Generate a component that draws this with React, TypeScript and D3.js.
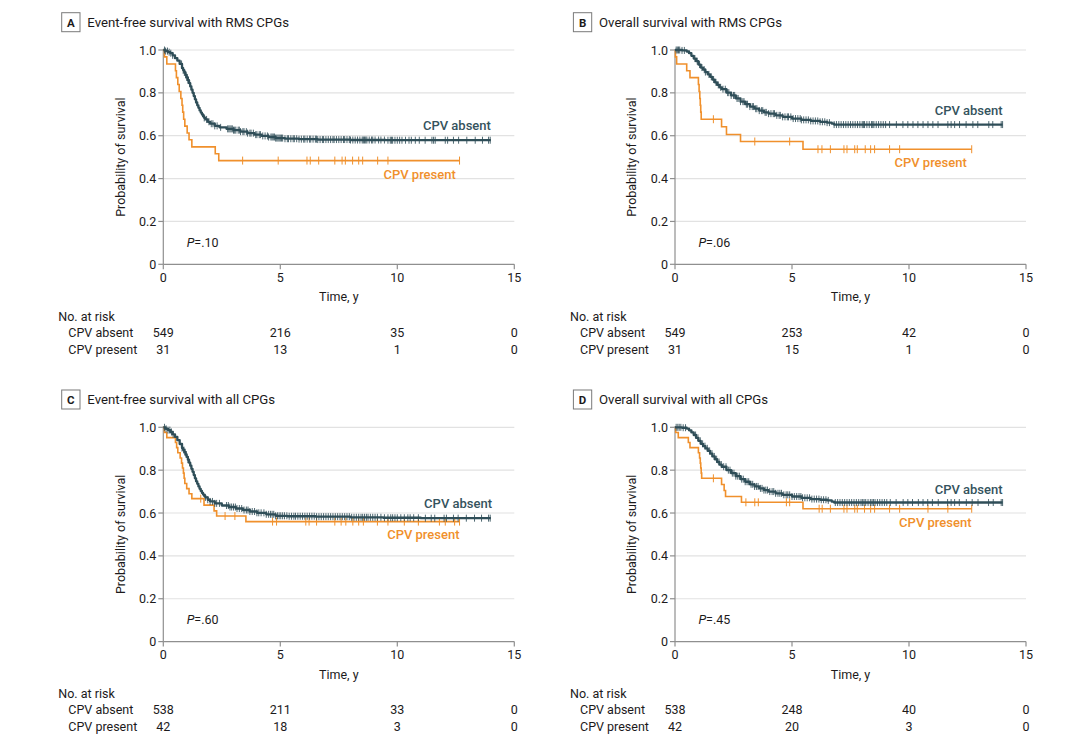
import React from 'react';
import * as d3 from 'd3';

type Pt = [number, number];

// ---------- shared axis values ----------
const timeTicks = [0, 5, 10, 15];
const survTicks = [0, 0.2, 0.4, 0.6, 0.8, 1.0];
const riskTimes = [0, 5, 10, 15];
const groupNames = ['CPV absent', 'CPV present'];

// ---------- Panel A: Event-free survival with RMS CPGs ----------
const aAbsentCurve: Pt[] = [
  [0, 1], [0.1, 0.995], [0.2, 0.99], [0.3, 0.985], [0.4, 0.975], [0.5, 0.962], [0.6, 0.95],
  [0.7, 0.935], [0.8, 0.915], [0.85, 0.905], [0.9, 0.895], [0.95, 0.884], [1.0, 0.872],
  [1.05, 0.859], [1.1, 0.845], [1.15, 0.83], [1.2, 0.815], [1.25, 0.8], [1.3, 0.785],
  [1.35, 0.77], [1.4, 0.755], [1.45, 0.742], [1.5, 0.73], [1.55, 0.718], [1.6, 0.708],
  [1.65, 0.699], [1.7, 0.69], [1.75, 0.683], [1.8, 0.676],
  [1.9, 0.665], [2.0, 0.656], [2.2, 0.646], [2.4, 0.639], [2.7, 0.632], [3.0, 0.626],
  [3.3, 0.619], [3.6, 0.612], [3.9, 0.605], [4.2, 0.599], [4.5, 0.594], [4.8, 0.589],
  [5.2, 0.586], [5.8, 0.584], [6.6, 0.582], [8.0, 0.58], [9.5, 0.579], [14.0, 0.579],
];
const aAbsentCensor = [
  0.05, 0.1, 0.18, 0.25, 0.32, 0.4, 0.78, 0.85, 0.9, 0.95, 1.0, 1.05, 1.75, 1.85, 1.95, 2.05,
  2.12, 2.2, 2.3, 2.45, 2.75, 2.8, 2.85, 2.9, 2.95, 3.0, 3.05, 3.1, 3.2, 3.25, 3.3, 3.4, 3.45,
  3.55, 3.6, 3.7, 3.75, 3.85, 3.95, 4.0, 4.1, 4.15, 4.25, 4.35, 4.45, 4.5, 4.6, 4.65, 4.7, 4.75,
  4.8, 4.85, 4.9, 4.95, 5.0, 5.05, 5.1, 5.2, 5.3, 5.35, 5.45, 5.55, 5.6, 5.7, 5.8, 5.9, 6.0,
  6.05, 6.15, 6.25, 6.3, 6.4, 6.5, 6.55, 6.6, 6.7, 6.8, 6.85, 6.95, 7.05, 7.15, 7.25, 7.3,
  7.4, 7.5, 7.6, 7.7, 7.75, 7.85, 7.95, 8.0, 8.1, 8.2, 8.3, 8.4, 8.5, 8.55, 8.6, 8.65, 8.7,
  8.8, 8.9, 8.95, 9.05, 9.2, 9.3, 9.45, 9.6, 9.7, 9.75, 9.8, 9.9, 10.0, 10.1, 10.2, 10.35,
  10.5, 10.6, 10.77, 10.94, 11.19, 11.48, 11.55, 11.62, 12.05, 12.15, 12.4, 12.62, 12.97,
  13.33, 13.64, 13.9, 13.97,
];
const aPresentCurve: Pt[] = [
  [0, 1], [0.05, 0.968], [0.15, 0.935], [0.52, 0.903], [0.56, 0.871], [0.62, 0.839],
  [0.68, 0.806], [0.75, 0.774], [0.8, 0.742], [0.83, 0.71], [0.87, 0.677], [0.92, 0.645],
  [1.02, 0.613], [1.1, 0.581], [1.22, 0.548], [2.22, 0.516], [2.37, 0.484], [12.66, 0.484],
];
const aPresentCensor = [3.39, 4.91, 6.14, 6.28, 6.64, 7.33, 7.64, 7.78, 8.09, 8.35, 8.52, 9.16, 9.6, 12.66];
const aRiskAbsent = [549, 216, 35, 0];
const aRiskPresent = [31, 13, 1, 0];

// ---------- Panel B: Overall survival with RMS CPGs ----------
const bAbsentCurve: Pt[] = [
  [0, 1], [0.3, 0.998], [0.5, 0.993], [0.6, 0.985], [0.7, 0.973], [0.8, 0.96], [0.9, 0.948],
  [1.0, 0.932], [1.1, 0.918], [1.2, 0.908], [1.3, 0.897], [1.4, 0.886], [1.5, 0.875],
  [1.6, 0.862], [1.7, 0.849], [1.8, 0.837], [1.9, 0.826], [2.0, 0.817], [2.2, 0.801],
  [2.4, 0.788], [2.6, 0.774], [2.8, 0.759], [3.0, 0.747], [3.2, 0.736], [3.4, 0.726],
  [3.6, 0.717], [3.8, 0.709], [4.0, 0.703], [4.3, 0.695], [4.6, 0.688], [5.0, 0.68],
  [5.4, 0.674], [5.8, 0.669], [6.2, 0.665], [6.5, 0.661], [6.7, 0.656], [6.8, 0.652],
  [14.0, 0.652],
];
const bAbsentCensor = [
  0.05, 0.1, 0.15, 0.2, 0.3, 0.4, 0.85, 0.95, 1.05, 1.15, 1.25, 1.3, 1.45, 1.55, 1.65, 1.75,
  1.85, 1.95, 2.05, 2.15, 2.25, 2.3, 2.4, 2.5, 2.55, 2.65, 2.7, 2.8, 2.9, 2.95, 3.05, 3.1, 3.2,
  3.3, 3.35, 3.45, 3.5, 3.6, 3.7, 3.75, 3.85, 3.9, 4.0, 4.1, 4.2, 4.25, 4.35, 4.45, 4.5, 4.6,
  4.7, 4.8, 4.85, 4.95, 5.05, 5.15, 5.25, 5.35, 5.4, 5.5, 5.6, 5.7, 5.8, 5.9, 6.0, 6.1, 6.2,
  6.3, 6.4, 6.5, 6.6, 6.8, 6.9, 7.0, 7.1, 7.2, 7.3, 7.4, 7.5, 7.6, 7.7, 7.8, 7.9, 8.0, 8.05,
  8.1, 8.2, 8.3, 8.4, 8.45, 8.5, 8.6, 8.7, 8.8, 8.9, 9.0, 9.17, 9.46, 9.74, 9.95, 10.17,
  10.38, 10.6, 10.81, 11.02, 11.24, 11.66, 11.8, 11.95, 12.16, 12.44, 12.73, 12.94, 13.41,
  13.58, 13.94, 14.0,
];
const bPresentCurve: Pt[] = [
  [0, 1], [0.02, 0.968], [0.07, 0.935], [0.5, 0.903], [0.64, 0.871], [1.0, 0.839],
  [1.03, 0.806], [1.06, 0.774], [1.08, 0.742], [1.1, 0.71], [1.12, 0.677], [1.99, 0.642],
  [2.2, 0.606], [2.8, 0.573], [5.47, 0.537], [12.68, 0.537],
];
const bPresentCensor = [1.64, 3.41, 4.9, 6.11, 6.28, 6.64, 7.22, 7.35, 7.68, 7.79, 8.13, 8.36, 8.53, 9.17, 9.6, 12.68];
const bRiskAbsent = [549, 253, 42, 0];
const bRiskPresent = [31, 15, 1, 0];

// ---------- Panel C: Event-free survival with all CPGs ----------
const cAbsentCurve: Pt[] = [
  [0, 1], [0.1, 0.993], [0.2, 0.987], [0.3, 0.978], [0.4, 0.967], [0.5, 0.955], [0.6, 0.94],
  [0.7, 0.922], [0.8, 0.903], [0.85, 0.894], [0.9, 0.884], [0.95, 0.873], [1.0, 0.862],
  [1.05, 0.849], [1.1, 0.835], [1.15, 0.821], [1.2, 0.806], [1.25, 0.792], [1.3, 0.777],
  [1.35, 0.762], [1.4, 0.748], [1.45, 0.736], [1.5, 0.724], [1.55, 0.713], [1.6, 0.703],
  [1.65, 0.694], [1.7, 0.686], [1.75, 0.679], [1.8, 0.673],
  [1.9, 0.662], [2.0, 0.654], [2.2, 0.645], [2.5, 0.635], [2.8, 0.628], [3.1, 0.621],
  [3.4, 0.614], [3.7, 0.607], [4.0, 0.601], [4.4, 0.594], [4.8, 0.587], [5.3, 0.585],
  [6.5, 0.583], [8.0, 0.58], [9.4, 0.578], [11.0, 0.576], [14.0, 0.576],
];
const cAbsentCensor = [
  0.05, 0.12, 0.2, 0.28, 0.35, 0.42, 0.8, 0.88, 0.93, 0.98, 1.05, 1.8, 1.9, 2.0, 2.1, 2.2,
  2.28, 2.4, 2.7, 2.78, 2.85, 2.92, 3.0, 3.08, 3.15, 3.25, 3.35, 3.45, 3.55, 3.62, 3.7, 3.8,
  3.9, 4.0, 4.08, 4.18, 4.3, 4.4, 4.5, 4.58, 4.65, 4.72, 4.8, 4.88, 4.95, 5.02, 5.1, 5.18,
  5.28, 5.38, 5.48, 5.58, 5.65, 5.75, 5.85, 5.95, 6.05, 6.15, 6.25, 6.35, 6.45, 6.55, 6.65,
  6.75, 6.85, 6.95, 7.05, 7.15, 7.25, 7.35, 7.45, 7.55, 7.65, 7.75, 7.85, 7.95, 8.05, 8.15,
  8.25, 8.35, 8.45, 8.52, 8.6, 8.68, 8.75, 8.85, 8.95, 9.05, 9.15, 9.3, 9.45, 9.6, 9.72,
  9.8, 9.9, 10.0, 10.15, 10.3, 10.45, 10.55, 10.7, 10.9, 11.2, 11.45, 11.6, 12.0, 12.1,
  12.4, 12.6, 12.95, 13.3, 13.6, 13.9, 13.97,
];
const cPresentCurve: Pt[] = [
  [0, 1], [0.05, 0.976], [0.15, 0.952], [0.52, 0.929], [0.57, 0.905], [0.62, 0.881],
  [0.72, 0.857], [0.78, 0.833], [0.82, 0.81], [0.86, 0.786], [0.89, 0.762], [0.92, 0.738],
  [1.0, 0.714], [1.1, 0.69], [1.22, 0.667], [1.74, 0.637], [2.17, 0.61], [2.28, 0.586],
  [3.53, 0.56], [12.66, 0.56],
];
const cPresentCensor = [
  1.6, 2.64, 3.06, 4.67, 4.84, 6.09, 6.23, 6.55, 7.33, 7.6, 7.8, 8.1, 8.35, 8.55, 9.15, 9.6,
  10.3, 10.9, 11.8, 12.05, 12.45, 12.66,
];
const cRiskAbsent = [538, 211, 33, 0];
const cRiskPresent = [42, 18, 3, 0];

// ---------- Panel D: Overall survival with all CPGs ----------
const dAbsentCurve: Pt[] = [
  [0, 1], [0.3, 0.998], [0.5, 0.994], [0.6, 0.986], [0.7, 0.976], [0.8, 0.964], [0.9, 0.951],
  [1.0, 0.937], [1.1, 0.923], [1.2, 0.912], [1.3, 0.902], [1.4, 0.89], [1.5, 0.877],
  [1.6, 0.864], [1.7, 0.851], [1.8, 0.838], [1.9, 0.826], [2.0, 0.816], [2.2, 0.8],
  [2.4, 0.786], [2.6, 0.772], [2.8, 0.758], [3.0, 0.746], [3.2, 0.734], [3.4, 0.724],
  [3.6, 0.715], [3.8, 0.707], [4.0, 0.7], [4.3, 0.692], [4.6, 0.685], [5.0, 0.677],
  [5.4, 0.671], [5.8, 0.665], [6.2, 0.662], [6.5, 0.659], [6.7, 0.653], [6.8, 0.649],
  [14.0, 0.649],
];
const dAbsentCensor = [
  0.05, 0.12, 0.18, 0.25, 0.35, 0.45, 0.88, 0.98, 1.08, 1.18, 1.28, 1.38, 1.48, 1.58, 1.68,
  1.78, 1.88, 1.98, 2.08, 2.18, 2.28, 2.35, 2.45, 2.52, 2.6, 2.68, 2.75, 2.85, 2.92, 3.0,
  3.08, 3.15, 3.25, 3.32, 3.4, 3.48, 3.55, 3.65, 3.72, 3.8, 3.88, 3.95, 4.05, 4.15, 4.22,
  4.3, 4.4, 4.48, 4.55, 4.65, 4.75, 4.82, 4.9, 5.0, 5.1, 5.2, 5.3, 5.38, 5.45, 5.55, 5.65,
  5.75, 5.85, 5.95, 6.05, 6.15, 6.25, 6.35, 6.45, 6.55, 6.85, 6.95, 7.05, 7.15, 7.25, 7.35,
  7.45, 7.55, 7.65, 7.75, 7.85, 7.95, 8.02, 8.08, 8.15, 8.25, 8.35, 8.42, 8.48, 8.55, 8.65,
  8.75, 8.85, 8.95, 9.05, 9.2, 9.45, 9.75, 9.95, 10.15, 10.4, 10.6, 10.8, 11.0, 11.25,
  11.65, 11.8, 11.95, 12.15, 12.45, 12.7, 12.95, 13.4, 13.6, 13.94, 14.0,
];
const dPresentCurve: Pt[] = [
  [0, 1], [0.03, 0.976], [0.14, 0.952], [0.57, 0.929], [0.64, 0.905], [1.0, 0.881],
  [1.05, 0.857], [1.08, 0.833], [1.1, 0.81], [1.12, 0.786], [1.14, 0.762], [1.99, 0.733],
  [2.1, 0.705], [2.16, 0.677], [2.84, 0.65], [5.47, 0.62], [12.68, 0.62],
];
const dPresentCensor = [
  1.64, 3.03, 3.41, 3.56, 4.76, 4.9, 6.16, 6.29, 6.64, 7.22, 7.35, 7.68, 7.79, 8.1, 8.36,
  8.53, 9.17, 9.6, 10.81, 11.66, 12.68,
];
const dRiskAbsent = [538, 248, 40, 0];
const dRiskPresent = [42, 20, 3, 0];

// ---------- styling ----------
const FONT = "Roboto, 'Liberation Sans', Arial, sans-serif";
const DARK = '#2f4e58';
const DARK_TEXT = '#35535d';
const ORANGE = '#f0902c';
const TEXT = '#1c1a1b';
const GRID = '#e2e2e2';
const AXIS = '#8f8f8f';
const PW = 351;
const PH = 214.3;

interface PanelDef {
  letter: string;
  title: string;
  ox: number;
  oy: number;
  absent: Pt[];
  absentCensor: number[];
  present: Pt[];
  presentCensor: number[];
  riskAbsent: number[];
  riskPresent: number[];
  pText: string;
  absentLabel: Pt;
  presentLabel: Pt;
}

const panels: PanelDef[] = [
  {
    letter: 'A', title: 'Event-free survival with RMS CPGs', ox: 163.3, oy: 50,
    absent: aAbsentCurve, absentCensor: aAbsentCensor, present: aPresentCurve, presentCensor: aPresentCensor,
    riskAbsent: aRiskAbsent, riskPresent: aRiskPresent, pText: '=.10',
    absentLabel: [14, 0.625], presentLabel: [12.5, 0.4],
  },
  {
    letter: 'B', title: 'Overall survival with RMS CPGs', ox: 675, oy: 50,
    absent: bAbsentCurve, absentCensor: bAbsentCensor, present: bPresentCurve, presentCensor: bPresentCensor,
    riskAbsent: bRiskAbsent, riskPresent: bRiskPresent, pText: '=.06',
    absentLabel: [14, 0.697], presentLabel: [12.47, 0.455],
  },
  {
    letter: 'C', title: 'Event-free survival with all CPGs', ox: 163.3, oy: 427.3,
    absent: cAbsentCurve, absentCensor: cAbsentCensor, present: cPresentCurve, presentCensor: cPresentCensor,
    riskAbsent: cRiskAbsent, riskPresent: cRiskPresent, pText: '=.60',
    absentLabel: [14.05, 0.622], presentLabel: [12.66, 0.478],
  },
  {
    letter: 'D', title: 'Overall survival with all CPGs', ox: 675, oy: 427.3,
    absent: dAbsentCurve, absentCensor: dAbsentCensor, present: dPresentCurve, presentCensor: dPresentCensor,
    riskAbsent: dRiskAbsent, riskPresent: dRiskPresent, pText: '=.45',
    absentLabel: [14, 0.689], presentLabel: [12.67, 0.537],
  },
];

function survAt(curve: Pt[], t: number): number {
  let s = curve[0][1];
  for (const [ct, cs] of curve) {
    if (ct <= t + 1e-9) s = cs;
    else break;
  }
  return s;
}

function Panel({ p }: { p: PanelDef }) {
  const x = d3.scaleLinear().domain([0, 15]).range([0, PW]);
  const y = d3.scaleLinear().domain([0, 1]).range([PH, 0]);
  const line = d3
    .line<Pt>()
    .x((d) => x(d[0]))
    .y((d) => y(d[1]))
    .curve(d3.curveStepAfter);

  const fs = 12.5;
  return (
    <g transform={`translate(${p.ox},${p.oy})`} fontFamily={FONT}>
      {/* panel header */}
      <rect x={-101.6} y={-37.3} width={18.3} height={19} fill="none" stroke="#7a7a7a" strokeWidth={1} />
      <text x={-92.45} y={-23.3} textAnchor="middle" fontSize={11.5} fontWeight={700} fill={TEXT}>
        {p.letter}
      </text>
      <text x={-76} y={-23.3} fontSize={13.2} fill={TEXT}>
        {p.title}
      </text>

      {/* gridlines */}
      {survTicks.filter((v) => v > 0).map((v) => (
        <line key={`g${v}`} x1={0} x2={PW} y1={y(v)} y2={y(v)} stroke={GRID} strokeWidth={1.2} />
      ))}

      {/* axes */}
      <line x1={0} x2={0} y1={y(0)} y2={y(1) - 1} stroke={AXIS} strokeWidth={1.2} />
      <line x1={0} x2={PW} y1={y(0)} y2={y(0)} stroke={AXIS} strokeWidth={1.2} />
      {survTicks.map((v) => (
        <g key={`yt${v}`}>
          <line x1={-5} x2={0} y1={y(v)} y2={y(v)} stroke={AXIS} strokeWidth={1.2} />
          <text x={-7} y={y(v)} dy="0.36em" textAnchor="end" fontSize={fs} fill={TEXT}>
            {v === 0 ? '0' : d3.format('.1f')(v)}
          </text>
        </g>
      ))}
      {timeTicks.map((v) => (
        <g key={`xt${v}`}>
          <line x1={x(v)} x2={x(v)} y1={y(0)} y2={y(0) + 5} stroke={AXIS} strokeWidth={1.2} />
          <text x={x(v)} y={y(0) + 17.5} textAnchor="middle" fontSize={fs} fill={TEXT}>
            {v}
          </text>
        </g>
      ))}
      <text x={PW / 2} y={PH + 37} textAnchor="middle" fontSize={fs} fill={TEXT}>
        Time, y
      </text>
      <text
        transform={`translate(${-43},${PH / 2}) rotate(-90)`}
        textAnchor="middle"
        dy="0.35em"
        fontSize={fs}
        fill={TEXT}
      >
        Probability of survival
      </text>

      {/* P value */}
      <text x={x(1.0)} y={y(0.08)} fontSize={fs} fill={TEXT}>
        <tspan fontStyle="italic">P</tspan>
        {p.pText}
      </text>

      {/* curves */}
      <path d={line(p.present) || ''} fill="none" stroke={ORANGE} strokeWidth={1.6} />
      {p.presentCensor.map((t, i) => (
        <line key={`pc${i}`} x1={x(t)} x2={x(t)} y1={y(survAt(p.present, t)) - 4} y2={y(survAt(p.present, t)) + 4}
          stroke={ORANGE} strokeWidth={1} />
      ))}
      <path d={line(p.absent) || ''} fill="none" stroke={DARK} strokeWidth={2.3} strokeLinejoin="round" />
      {p.absentCensor.map((t, i) => (
        <line key={`ac${i}`} x1={x(t)} x2={x(t)} y1={y(survAt(p.absent, t)) - 3.5} y2={y(survAt(p.absent, t)) + 3.5}
          stroke={DARK} strokeOpacity={0.85} strokeWidth={1} />
      ))}

      {/* curve labels */}
      <text x={x(p.absentLabel[0])} y={y(p.absentLabel[1])} textAnchor="end" fontSize={13} fontWeight={500} fill={DARK_TEXT}>
        {groupNames[0]}
      </text>
      <text x={x(p.presentLabel[0])} y={y(p.presentLabel[1])} textAnchor="end" fontSize={13} fontWeight={500} fill={ORANGE}>
        {groupNames[1]}
      </text>

      {/* number at risk */}
      <text x={-105} y={PH + 56.7} fontSize={fs} fill={TEXT}>No. at risk</text>
      <text x={-95} y={PH + 72.5} fontSize={fs} fill={TEXT}>{groupNames[0]}</text>
      <text x={-95} y={PH + 89.5} fontSize={fs} fill={TEXT}>{groupNames[1]}</text>
      {riskTimes.map((t, i) => (
        <g key={`r${t}`}>
          <text x={x(t)} y={PH + 72.5} textAnchor="middle" fontSize={fs} fill={TEXT}>{p.riskAbsent[i]}</text>
          <text x={x(t)} y={PH + 89.5} textAnchor="middle" fontSize={fs} fill={TEXT}>{p.riskPresent[i]}</text>
        </g>
      ))}
    </g>
  );
}

export default function App() {
  return (
    <svg
      width={1080}
      height={747}
      viewBox="0 0 1080 747"
      style={{ position: 'absolute', left: 0, top: 0, background: '#fff' }}
    >
      <rect width={1080} height={747} fill="#fff" />
      {panels.map((p) => (
        <Panel key={p.letter} p={p} />
      ))}
    </svg>
  );
}
